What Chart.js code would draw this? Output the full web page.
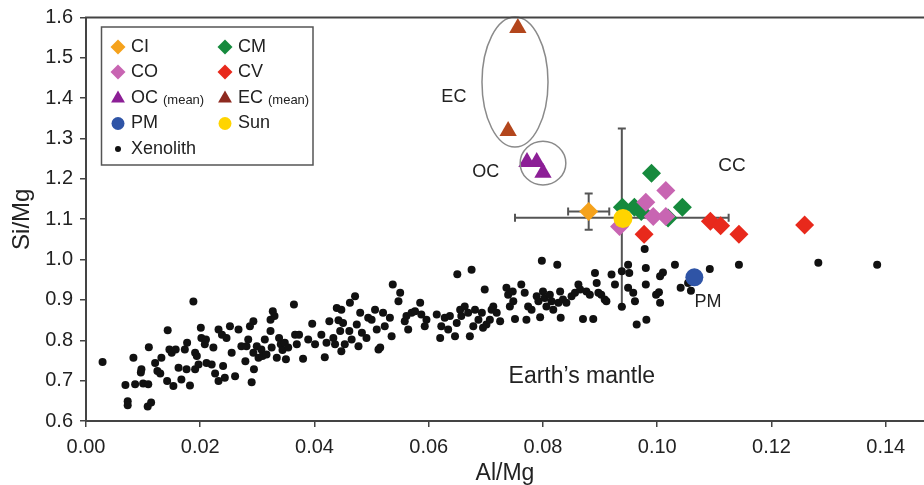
<!DOCTYPE html>
<html>
<head>
<meta charset="utf-8">
<script src="https://cdn.jsdelivr.net/npm/chart.js@4"></script>
<style>
  html, body { margin: 0; padding: 0; background: #fff; overflow: hidden; }
</style>
</head>
<body>
<canvas id="chart" width="924" height="485"></canvas>
<script>
// chondrite groups (Al/Mg, Si/Mg)
const ciAl = [0.0880], ciSi = [1.119]
const cmAl = [0.0990, 0.0939, 0.0960, 0.0972, 0.1044, 0.1019]
const cmSi = [1.214, 1.130, 1.130, 1.119, 1.130, 1.103]
const coAl = [0.1015, 0.0980, 0.0993, 0.1015, 0.0934]
const coSi = [1.171, 1.142, 1.107, 1.107, 1.082]
const cvAl = [0.0977, 0.1093, 0.1111, 0.1143, 0.1258]
const cvSi = [1.063, 1.095, 1.084, 1.063, 1.086]
const ocAl = [0.0772, 0.0789, 0.0800]
const ocSi = [1.242, 1.242, 1.215]
const ecAl = [0.0756, 0.0739]
const ecSi = [1.574, 1.319]
const pmAl = [0.1065], pmSi = [0.956]
const sunAl = [0.0940], sunSi = [1.102]

// error bars: [Al, Si, Al error, Si error]
const errorBars = [
  [0.0880, 1.119, 0.0036, 0.045],
  [0.0938, 1.104, 0.0187, 0.221],
]

// mantle xenoliths
const xenoAl = [
  0.0029, 0.0069, 0.0073, 0.0073, 0.0083, 0.0086, 0.0097, 0.0096, 0.0100, 0.0109,
  0.0110, 0.0108, 0.0114, 0.0121, 0.0125, 0.0130, 0.0132, 0.0143, 0.0142, 0.0146,
  0.0150, 0.0153, 0.0157, 0.0162, 0.0167, 0.0173, 0.0176, 0.0177, 0.0182, 0.0188,
  0.0191, 0.0194, 0.0191, 0.0197, 0.0201, 0.0202, 0.0208, 0.0210, 0.0211, 0.0220,
  0.0223, 0.0226, 0.0232, 0.0232, 0.0238, 0.0240, 0.0243, 0.0246, 0.0252, 0.0255,
  0.0261, 0.0267, 0.0272, 0.0279, 0.0281, 0.0284, 0.0287, 0.0290, 0.0293, 0.0294,
  0.0293, 0.0299, 0.0302, 0.0307, 0.0309, 0.0313, 0.0316, 0.0323, 0.0327, 0.0323,
  0.0330, 0.0325, 0.0334, 0.0338, 0.0341, 0.0344, 0.0348, 0.0350, 0.0354, 0.0364,
  0.0366, 0.0369, 0.0373, 0.0380, 0.0389, 0.0396, 0.0401, 0.0412, 0.0418, 0.0421,
  0.0426, 0.0433, 0.0436, 0.0439, 0.0442, 0.0445, 0.0447, 0.0447, 0.0450, 0.0453,
  0.0462, 0.0461, 0.0465, 0.0471, 0.0474, 0.0477, 0.0480, 0.0483, 0.0491, 0.0494,
  0.0500, 0.0506, 0.0509, 0.0512,
  0.0515, 0.0520, 0.0523, 0.0532, 0.0535, 0.0537, 0.0547, 0.0550, 0.0558, 0.0561,
  0.0564, 0.0570, 0.0576, 0.0585, 0.0587, 0.0596, 0.0593, 0.0614, 0.0620, 0.0622,
  0.0628, 0.0634, 0.0637, 0.0646, 0.0649, 0.0650, 0.0655, 0.0657, 0.0663, 0.0669,
  0.0672, 0.0675, 0.0678, 0.0681, 0.0687, 0.0693, 0.0695, 0.0698, 0.0701, 0.0707,
  0.0710, 0.0713, 0.0719, 0.0725, 0.0736, 0.0739, 0.0742, 0.0747, 0.0748, 0.0751,
  0.0762, 0.0768, 0.0771, 0.0774, 0.0780, 0.0789, 0.0792, 0.0795, 0.0798, 0.0800,
  0.0803, 0.0806, 0.0812, 0.0815, 0.0818, 0.0825, 0.0827, 0.0830, 0.0831, 0.0835,
  0.0841, 0.0850, 0.0856, 0.0862, 0.0865, 0.0870, 0.0876, 0.0882, 0.0888, 0.0891,
  0.0894, 0.0897, 0.0902, 0.0908, 0.0911, 0.0920, 0.0926, 0.0938, 0.0938, 0.0949,
  0.0951, 0.0949, 0.0958, 0.0961, 0.0964, 0.0978, 0.0980, 0.0980, 0.0981,
  0.1031, 0.1010, 0.1005, 0.1092, 0.1143, 0.1282, 0.1385, 0.0998, 0.1003, 0.1005,
  0.1041, 0.1059, 0.1054,
]
const xenoSi = [
  0.746, 0.689, 0.649, 0.639, 0.757, 0.691, 0.728, 0.720, 0.693, 0.691,
  0.783, 0.636, 0.646, 0.744, 0.724, 0.718, 0.757, 0.825, 0.699, 0.777,
  0.769, 0.687, 0.777, 0.732, 0.703, 0.777, 0.728, 0.794, 0.688, 0.896,
  0.769, 0.761, 0.728, 0.740, 0.831, 0.806, 0.790, 0.802, 0.744, 0.740,
  0.782, 0.718, 0.699, 0.827, 0.814, 0.736, 0.707, 0.806, 0.835, 0.769,
  0.711, 0.827, 0.785, 0.748, 0.785, 0.802, 0.835, 0.696, 0.847, 0.728,
  0.769, 0.785, 0.757, 0.777, 0.761, 0.802, 0.765, 0.851, 0.872, 0.823,
  0.860, 0.782, 0.757, 0.806, 0.790, 0.776, 0.794, 0.753, 0.782, 0.889,
  0.814, 0.790, 0.814, 0.754, 0.802, 0.841, 0.790, 0.814, 0.758, 0.794,
  0.847, 0.806, 0.790, 0.880, 0.850, 0.823, 0.876, 0.773, 0.843, 0.790,
  0.893, 0.823, 0.802, 0.909, 0.839, 0.785, 0.868, 0.819, 0.806, 0.856,
  0.851, 0.876, 0.827, 0.777,
  0.782, 0.868, 0.835, 0.856, 0.810, 0.938, 0.897, 0.918, 0.847, 0.860,
  0.827, 0.868, 0.872, 0.893, 0.864, 0.851, 0.835, 0.864, 0.806, 0.835,
  0.856, 0.827, 0.860, 0.810, 0.843, 0.964, 0.876, 0.860, 0.884, 0.868,
  0.810, 0.975, 0.835, 0.876, 0.851, 0.868, 0.831, 0.926, 0.839, 0.851,
  0.876, 0.884, 0.868, 0.847, 0.930, 0.913, 0.884, 0.921, 0.897, 0.853,
  0.938, 0.918, 0.851, 0.884, 0.876, 0.909, 0.897, 0.857, 0.997, 0.921,
  0.905, 0.884, 0.913, 0.897, 0.876, 0.987, 0.893, 0.921, 0.856, 0.901,
  0.893, 0.909, 0.918, 0.938, 0.926, 0.853, 0.921, 0.913, 0.853, 0.967,
  0.942, 0.918, 0.913, 0.901, 0.897, 0.963, 0.938, 0.971, 0.883, 0.987,
  0.967, 0.930, 0.918, 0.897, 0.839, 1.026, 0.979, 0.938, 0.851,
  0.987, 0.968, 0.959, 0.977, 0.987, 0.992, 0.987, 0.913, 0.919, 0.893,
  0.930, 0.923, 0.942,
]

// annotation ellipses [centre Al, centre Si, radius Al, radius Si]
const rings = [
  [0.0751, 1.440, 0.00578, 0.161],
  [0.0800, 1.239, 0.0040, 0.054],
]
const notes = [
  ['EC', 0.0644, 1.403, 18],
  ['OC', 0.0700, 1.217, 18],
  ['CC', 0.1131, 1.232, 19],
  ['PM', 0.1089, 0.894, 18],
  ['Earth\u2019s mantle', 0.0868, 0.711, 23],
]

const FONT = '"Liberation Sans", Arial, Helvetica, sans-serif'
const INK = '#222'
const AXIS = '#444'

const pts = (xs, ys) => xs.map((v, i) => ({ x: v, y: ys[i] }))

const groups = [
  { label: 'CI', data: pts(ciAl, ciSi), color: '#f5a21c', style: 'rectRot', r: 9.5, order: 4 },
  { label: 'CM', data: pts(cmAl, cmSi), color: '#168a3d', style: 'rectRot', r: 9.5, order: 7 },
  { label: 'CO', data: pts(coAl, coSi), color: '#c865b2', style: 'rectRot', r: 9.5, order: 6 },
  { label: 'CV', data: pts(cvAl, cvSi), color: '#e8291c', style: 'rectRot', r: 9.5, order: 5 },
  { label: 'OC', data: pts(ocAl, ocSi), color: '#8c1f96', style: 'triangle', r: 10, order: 3 },
  { label: 'EC', data: pts(ecAl, ecSi), color: '#b3461c', style: 'triangle', r: 10, order: 3 },
  { label: 'PM', data: pts(pmAl, pmSi), color: '#2f54a6', style: 'circle', r: 9, order: 2 },
  { label: 'Sun', data: pts(sunAl, sunSi), color: '#ffd400', style: 'circle', r: 9.5, order: 1 },
  { label: 'Xenolith', data: pts(xenoAl, xenoSi), color: '#111', style: 'circle', r: 4, order: 10 },
]

const legendRows = [
  [['CI', '', '#f5a21c', 'rectRot', 7.5], ['CM', '', '#168a3d', 'rectRot', 7.5]],
  [['CO', '', '#c865b2', 'rectRot', 7.5], ['CV', '', '#e8291c', 'rectRot', 7.5]],
  [['OC', '(mean)', '#8c1f96', 'triangle', 8], ['EC', '(mean)', '#8e2a20', 'triangle', 8]],
  [['PM', '', '#2f54a6', 'circle', 6.5], ['Sun', '', '#ffd400', 'circle', 6.5]],
  [['Xenolith', '', '#111', 'circle', 3]],
]

const overlay = {
  id: 'overlay',
  beforeDatasetsDraw(chart) {
    const { ctx, scales: { x, y } } = chart
    ctx.save()
    ctx.strokeStyle = '#555'
    ctx.lineWidth = 2
    errorBars.forEach(([al, si, ea, es]) => {
      const px = x.getPixelForValue(al), py = y.getPixelForValue(si)
      const l = x.getPixelForValue(al - ea), r = x.getPixelForValue(al + ea)
      const t = y.getPixelForValue(si + es), b = y.getPixelForValue(si - es)
      ctx.beginPath()
      ctx.moveTo(l, py); ctx.lineTo(r, py)
      ctx.moveTo(px, t); ctx.lineTo(px, b)
      ctx.moveTo(l, py - 4); ctx.lineTo(l, py + 4)
      ctx.moveTo(r, py - 4); ctx.lineTo(r, py + 4)
      ctx.moveTo(px - 4, t); ctx.lineTo(px + 4, t)
      ctx.moveTo(px - 4, b); ctx.lineTo(px + 4, b)
      ctx.stroke()
    })
    ctx.restore()
  },
  afterDatasetsDraw(chart) {
    const { ctx, scales: { x, y } } = chart
    ctx.save()
    ctx.strokeStyle = '#8a8a8a'
    ctx.lineWidth = 1.5
    rings.forEach(([al, si, ra, rs]) => {
      const cx = x.getPixelForValue(al), cy = y.getPixelForValue(si)
      const rx = x.getPixelForValue(al + ra) - cx
      const ry = cy - y.getPixelForValue(si + rs)
      ctx.beginPath()
      ctx.ellipse(cx, cy, rx, ry, 0, 0, Math.PI * 2)
      ctx.stroke()
    })
    ctx.fillStyle = INK
    ctx.textAlign = 'center'
    ctx.textBaseline = 'middle'
    notes.forEach(([txt, al, si, size]) => {
      ctx.font = size + 'px ' + FONT
      ctx.fillText(txt, x.getPixelForValue(al), y.getPixelForValue(si))
    })
    ctx.restore()
  },
  afterDraw(chart) {
    const { ctx, chartArea: a } = chart
    ctx.save()
    // frame top line
    ctx.strokeStyle = AXIS
    ctx.lineWidth = 2
    ctx.beginPath()
    ctx.moveTo(a.left - 1, a.top)
    ctx.lineTo(a.right, a.top)
    ctx.stroke()

    // legend box
    const bx = 101.5, by = 27, bw = 211.5, bh = 138
    ctx.fillStyle = '#fff'
    ctx.fillRect(bx, by, bw, bh)
    ctx.strokeStyle = '#555'
    ctx.lineWidth = 1.5
    ctx.strokeRect(bx, by, bw, bh)
    const rowY = [47, 72, 98.5, 123.5, 149]
    const colX = [118, 225]
    ctx.textBaseline = 'middle'
    ctx.textAlign = 'left'
    legendRows.forEach((row, ri) => {
      row.forEach(([name, extra, color, style, r], ci) => {
        const mx = colX[ci], my = rowY[ri]
        ctx.fillStyle = color
        Chart.helpers.drawPoint(ctx, { pointStyle: style, radius: r, rotation: 0, borderWidth: 0 }, mx, my)
        ctx.fillStyle = INK
        ctx.font = '18px ' + FONT
        ctx.fillText(name, mx + 13, my)
        if (extra) {
          const w = ctx.measureText(name + ' ').width
          ctx.font = '13px ' + FONT
          ctx.fillText(extra, mx + 13 + w, my + 2)
        }
      })
    })
    ctx.restore()
  },
}

new Chart('chart', {
  type: 'scatter',
  data: {
    datasets: groups.map(g => ({
      label: g.label,
      data: g.data,
      pointStyle: g.style,
      pointRadius: g.r,
      pointHoverRadius: g.r,
      pointBackgroundColor: g.color,
      pointBorderWidth: 0,
      order: g.order,
    })),
  },
  options: {
    responsive: false,
    animation: false,
    layout: { autoPadding: false, padding: { top: 17.5, right: 0, bottom: 0, left: 0 } },
    plugins: { legend: { display: false }, tooltip: { enabled: false } },
    scales: {
      x: {
        type: 'linear',
        min: 0,
        max: 0.1467,
        afterFit: s => { s.height = 64; s.paddingLeft = 0; s.paddingRight = 0 },
        ticks: {
          stepSize: 0.02,
          includeBounds: false,
          padding: 8,
          color: INK,
          font: { family: FONT, size: 20 },
          callback: v => v.toFixed(2),
        },
        grid: { drawOnChartArea: false, tickLength: 6, color: AXIS, lineWidth: 1.5 },
        border: { color: AXIS, width: 2 },
        title: { display: true, text: 'Al/Mg', color: INK, font: { family: FONT, size: 23, lineHeight: 1 }, padding: { top: 0, bottom: 0 } },
      },
      y: {
        min: 0.6,
        max: 1.6,
        afterFit: s => { s.width = 86; s.paddingTop = 0; s.paddingBottom = 0 },
        ticks: {
          stepSize: 0.1,
          padding: 7,
          color: INK,
          font: { family: FONT, size: 20 },
          callback: v => v.toFixed(1),
        },
        grid: { drawOnChartArea: false, tickLength: 6, color: AXIS, lineWidth: 1.5 },
        border: { color: AXIS, width: 2 },
        title: { display: true, text: 'Si/Mg', color: INK, font: { family: FONT, size: 24, lineHeight: 1 }, padding: { top: 10, bottom: 0 } },
      },
    },
  },
  plugins: [overlay],
})
</script>
</body>
</html>
